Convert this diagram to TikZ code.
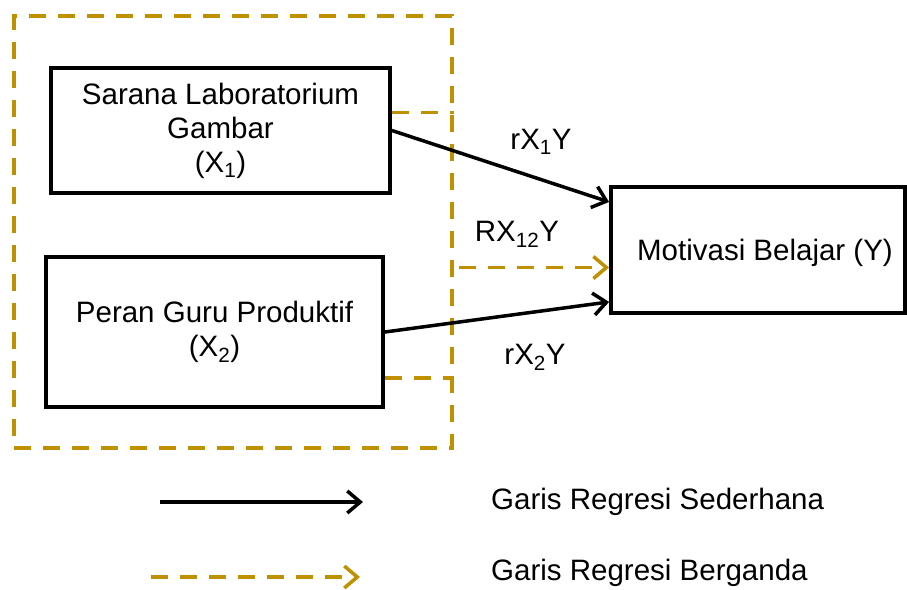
\documentclass[tikz,border=0pt]{standalone}
\usepackage{fontspec}
\setmainfont{Liberation Sans}
\usetikzlibrary{arrows.meta,calc}
\definecolor{gold}{RGB}{191,144,0}
\tikzset{
  box/.style={draw=black, line width=3.8pt, align=center, inner sep=0pt},
  lbl/.style={inner sep=0pt},
  reg/.style={line width=3.5pt, -{Straight Barb[length=13pt,width=22pt,line width=3.5pt]}},
  multi/.style={line width=3.5pt, draw=gold, dash pattern=on 17pt off 12pt},
  multiarrow/.style={multi, -{Straight Barb[length=13pt,width=22pt,line width=3.5pt]}},
}
\begin{document}
\begin{tikzpicture}[x=1pt, y=-1pt, font=\fontsize{29.5}{34}\selectfont]
\useasboundingbox (0,0) rectangle (907,589);

% group frame around both predictors
\node[multi, rectangle, minimum width=438pt, minimum height=432pt, inner sep=0pt] (grp) at (233,232) {};

% variable boxes
\node[box, minimum width=339pt, minimum height=125pt] (x1) at (220.5,130.5)
  {Sarana Laboratorium\\Gambar\\(X\textsubscript{1})};
\node[box, minimum width=337pt, minimum height=150pt] (x2) at (214.5,332)
  {Peran Guru Produktif\\(X\textsubscript{2})};
\node[box, minimum width=294pt, minimum height=126pt] (y) at (758,250) {};
\node[lbl] (ylabel) at (765,253) {Motivasi Belajar (Y)};

% joint regression stubs and arrow
\coordinate (s1) at ($(x1.north east)!0.36!(x1.south east)$);
\coordinate (s2) at ($(x2.north east)!0.8!(x2.south east)$);
\draw[multi] (s1) -- (grp.east |- s1);
\draw[multi] (s2) -- (grp.east |- s2);
\coordinate (yjoint) at ($(y.north west)!0.635!(y.south west)$);
\draw[multiarrow] ($(grp.east |- yjoint)+(5,0)$) -- (yjoint);

% simple regressions
\draw[reg] (x1.east) -- ($(y.north west)!0.13!(y.south west)$);
\draw[reg] (x2.east) -- ($(y.north west)!0.9!(y.south west)$);

% coefficient labels
\node[lbl] (r1) at (541,142) {rX\textsubscript{1}Y};
\node[lbl] (r12) at (517,234) {RX\textsubscript{12}Y};
\node[lbl] (r2) at (535,357) {rX\textsubscript{2}Y};

% legend
\coordinate (la) at (160,502);
\coordinate (lb) at (363,502);
\coordinate (lc) at (151,577);
\coordinate (ld) at (360,577);
\draw[reg] (la) -- (lb);
\draw[multiarrow] (lc) -- (ld);
\node[lbl, anchor=west] (t1) at (491,502) {Garis Regresi Sederhana};
\node[lbl, anchor=west] (t2) at (491,573) {Garis Regresi Berganda};
\end{tikzpicture}
\end{document}
